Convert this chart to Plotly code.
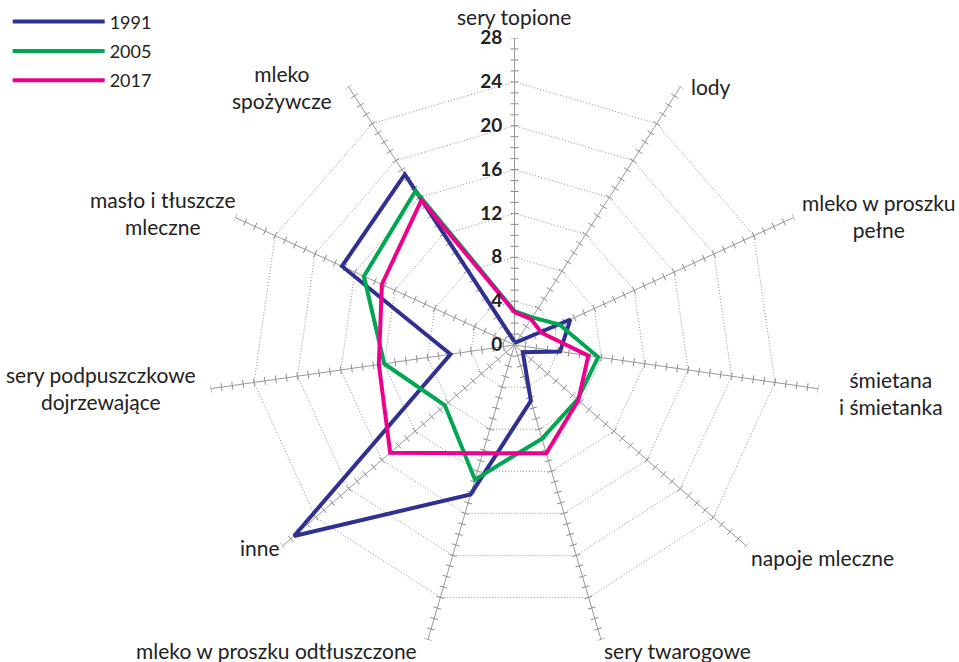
import math
import plotly.graph_objects as go

categories = [
    "sery topione", "lody", "mleko w proszku<br>pełne", "śmietana<br>i śmietanka",
    "napoje mleczne", "sery twarogowe", "mleko w proszku odtłuszczone", "inne",
    "sery podpuszczkowe<br>dojrzewające", "masło i tłuszcze<br>mleczne", "mleko<br>spożywcze",
]
v1991 = [0.3, 0.3, 5.6, 4.2, 1.0, 5.3, 14.2, 26.6, 5.9, 17.3, 18.5]
v2005 = [3.1, 3.0, 4.5, 7.7, 7.6, 8.9, 12.8, 8.4, 12.0, 15.1, 16.7]
v2017 = [3.0, 2.8, 2.7, 6.8, 7.7, 10.3, 10.3, 15.0, 12.5, 13.3, 15.7]
radial_ticks = [0, 4, 8, 12, 16, 20, 24, 28]
r_max = 28

series = [("1991", v1991, "#2E3192"), ("2005", v2005, "#00A651"), ("2017", v2017, "#EC008C")]

FONT = "Lato"
W, H = 959, 662
cx, cy, R = 514.5, 345, 307

# label placement style (anchor side, pixel offset from spoke end) per category
label_style = [
    ("center", "bottom", -1, -7),
    ("left", "middle", 9, 0),
    ("left", "middle", 6, -1),
    ("left", "middle", 19, 4),
    ("left", "middle", 2, 11),
    ("left", "top", 1, -4),
    ("right", "top", -9, -4),
    ("right", "middle", 0, 1),
    ("right", "middle", -13, -1),
    ("right", "middle", 3, -4),
    ("right", "middle", -15, 0),
]

fig = go.Figure()

# minor tick marks on every spoke (decoration layer, numeric angular axis)
n = len(categories)
step = 360.0 / n
h = 0.36
tt, tr = [], []
for i in range(n):
    phi = i * step
    for r in range(1, r_max + 1):
        d = math.degrees(math.atan(h / r))
        ra = math.hypot(r, h)
        tt += [phi - d, phi + d, None]
        tr += [ra, ra, None]
fig.add_trace(go.Scatterpolar(r=tr, theta=tt, mode="lines", subplot="polar",
                              line=dict(color="#8c8c8c", width=1), showlegend=False,
                              hoverinfo="skip"))

for name, vals, col in series:
    fig.add_trace(go.Scatterpolar(
        r=vals + vals[:1], theta=categories + categories[:1], mode="lines",
        name=name, legendgroup=name, subplot="polar2", line=dict(color=col, width=4)))

dom_x = [(cx - R) / W, (cx + R) / W]
dom_y = [(H - cy - R) / H, (H - cy + R) / H]

annotations = []
for i, (lab, (xa, ya, dx, dy)) in enumerate(zip(categories, label_style)):
    a = math.radians(i * step)
    px = cx + R * math.sin(a) + dx
    py = cy - R * math.cos(a) + dy
    annotations.append(dict(
        text=lab, x=px / W, y=1 - py / H, xref="paper", yref="paper",
        xanchor=xa, yanchor=ya, align="center", showarrow=False,
        font=dict(family=FONT, size=21, color="#222222")))

fig.update_layout(
    width=W, height=H, margin=dict(l=0, r=0, t=0, b=0),
    paper_bgcolor="white", plot_bgcolor="white",
    font=dict(family=FONT, size=20, color="#222222"),
    annotations=annotations,
    polar=dict(
        domain=dict(x=dom_x, y=dom_y), bgcolor="rgba(0,0,0,0)",
        angularaxis=dict(visible=False, rotation=90, direction="clockwise", thetaunit="degrees"),
        radialaxis=dict(visible=False, range=[0, r_max]),
    ),
    polar2=dict(
        domain=dict(x=dom_x, y=dom_y), bgcolor="rgba(0,0,0,0)", gridshape="linear",
        angularaxis=dict(rotation=90, direction="clockwise", showline=False,
                         gridcolor="#999999", gridwidth=1.2, ticks="",
                         showticklabels=False),
        radialaxis=dict(range=[0, r_max], tickvals=radial_ticks, angle=90,
                        showline=False, ticks="outside", ticklen=5,
                        tickcolor="rgba(0,0,0,0)", gridcolor="#8f8f8f", griddash="1px,2px",
                        gridwidth=1, tickangle=90, side="counterclockwise",
                        tickfont=dict(family=FONT, size=19, color="#222222", weight="bold")),
    ),
    legend=dict(x=0.008, y=0.995, xanchor="left", yanchor="top", itemwidth=92,
                font=dict(family=FONT, size=18, color="#222222"), tracegroupgap=3,
                bgcolor="rgba(0,0,0,0)"),
)

fig.write_html("out.html", config={"displayModeBar": False},
               post_script="document.body.style.margin='0';")
